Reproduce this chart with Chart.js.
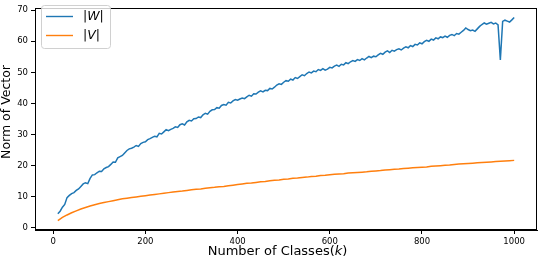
<!DOCTYPE html>
<html>
<head>
<meta charset="utf-8">
<script src="https://cdn.jsdelivr.net/npm/chart.js@4/dist/chart.umd.min.js"></script>
<style>
html,body{margin:0;padding:0;background:#fff;}
canvas{display:block;}
</style>
</head>
<body>
<canvas id="c" width="538" height="260"></canvas>
<script>
// ---- data ----
const wStartK = 10, wStepK = 5;
const normW = [
 4.4, 5.2, 6.5, 7.4, 9.6, 10.3, 10.9, 11.2, 11.9, 12.4,
 13.2, 14.0, 14.4, 14.1, 15.8, 16.9, 17.0, 17.6, 18.1, 18.0,
 18.9, 19.3, 19.6, 20.3, 21.1, 21.0, 22.4, 22.8, 23.2, 24.0,
 24.8, 25.3, 25.5, 25.9, 26.4, 26.1, 27.0, 27.4, 27.6, 28.3,
 28.6, 29.0, 29.4, 29.2, 30.3, 30.1, 30.8, 31.5, 31.2, 31.6,
 31.9, 32.4, 32.2, 33.1, 33.4, 33.0, 34.0, 34.5, 34.3, 35.0,
 35.1, 35.6, 35.4, 36.3, 36.8, 36.5, 37.4, 37.9, 38.0, 38.6,
 38.4, 39.3, 39.6, 39.4, 40.3, 40.1, 40.8, 41.2, 41.0, 41.4,
 41.7, 41.5, 42.1, 42.6, 42.3, 43.1, 43.0, 43.6, 44.0, 43.7,
 44.2, 44.1, 44.8, 44.6, 45.2, 45.9, 46.3, 46.1, 46.8, 47.3,
 47.1, 47.8, 47.5, 48.3, 48.0, 48.6, 49.2, 48.9, 49.6, 50.1,
 49.8, 50.4, 50.2, 50.9, 50.6, 51.2, 50.7, 51.0, 51.6, 51.4,
 52.0, 52.3, 51.9, 52.6, 52.4, 53.1, 52.8, 53.4, 53.8, 53.5,
 54.1, 53.8, 54.4, 54.0, 54.6, 55.1, 54.7, 55.2, 55.0, 55.6,
 56.1, 55.8, 56.5, 56.9, 56.4, 57.1, 56.8, 57.3, 57.6, 57.2,
 57.8, 58.2, 57.9, 58.6, 58.3, 59.0, 58.8, 59.5, 59.2, 59.9,
 60.3, 60.0, 60.7, 60.4, 61.1, 60.8, 61.4, 61.2, 61.7, 61.3,
 61.9, 62.2, 61.8, 62.5, 62.3, 62.9, 63.5, 64.3, 63.8, 63.4,
 63.6, 63.2, 64.0, 64.8, 65.4, 65.9, 65.5, 65.8, 66.1, 65.6,
 65.9, 65.3, 54.0, 66.4, 66.8, 66.5, 66.2, 66.9, 67.7
];
const vStartK = 10, vStepK = 10;
const normV = [
 2.2, 3.2, 4.0, 4.7, 5.3, 5.9, 6.4, 6.9, 7.3, 7.7,
 8.0, 8.3, 8.6, 8.9, 9.2, 9.4, 9.6, 9.8, 10.0, 10.2,
 10.4, 10.6, 10.8, 11.0, 11.2, 11.4, 11.6, 11.7, 11.9, 12.1,
 12.3, 12.4, 12.6, 12.8, 12.9, 13.1, 13.2, 13.4, 13.6, 13.8,
 14.0, 14.2, 14.3, 14.5, 14.7, 14.8, 15.0, 15.2, 15.3, 15.5,
 15.6, 15.8, 15.9, 16.1, 16.2, 16.4, 16.5, 16.7, 16.8, 17.0,
 17.1, 17.2, 17.3, 17.5, 17.6, 17.7, 17.8, 17.9, 18.1, 18.2,
 18.3, 18.5, 18.6, 18.7, 18.8, 19.0, 19.1, 19.2, 19.3, 19.4,
 19.5, 19.7, 19.8, 19.9, 20.0, 20.1, 20.3, 20.4, 20.5, 20.6,
 20.7, 20.8, 20.9, 21.0, 21.1, 21.2, 21.3, 21.4, 21.5, 21.6
];
const xTicks = [0, 200, 400, 600, 800, 1000];
const yTicks = [0, 10, 20, 30, 40, 50, 60, 70];
const seriesLabels = ['W', 'V'];
const xTitle = [{t:'Number of Classes(', i:false}, {t:'k', i:true}, {t:')', i:false}];
const yTitle = 'Norm of Vector';

const BLUE = '#1f77b4', ORANGE = '#ff7f0e';
const FONT = '"DejaVu Sans", sans-serif';

const wPts = normW.map((v, i) => ({x: wStartK + wStepK * i, y: v}));
const vPts = normV.map((v, i) => ({x: vStartK + vStepK * i, y: v}));

function measureRuns(ctx, runs, size) {
  let total = 0;
  runs.forEach(r => {
    ctx.font = (r.i ? 'italic ' : '') + size + 'px ' + FONT;
    total += ctx.measureText(r.t).width;
  });
  return total;
}
function paintRuns(ctx, runs, size, x, y) {
  let cx = x;
  runs.forEach(r => {
    ctx.font = (r.i ? 'italic ' : '') + size + 'px ' + FONT;
    ctx.fillText(r.t, cx, y);
    cx += ctx.measureText(r.t).width;
  });
}

const decor = {
  id: 'decor',
  afterDraw(chart) {
    const ctx = chart.ctx, a = chart.chartArea;
    ctx.save();
    // spines
    ctx.strokeStyle = '#000';
    ctx.lineWidth = 1;
    ctx.strokeRect(Math.round(a.left) + 0.5, Math.round(a.top) + 0.5,
                   Math.round(a.right - a.left) - 1, Math.round(a.bottom - a.top) - 1);
    // x title
    ctx.fillStyle = '#000';
    ctx.textBaseline = 'middle';
    const tw = measureRuns(ctx, xTitle, 13);
    paintRuns(ctx, xTitle, 13, 277.5 - tw / 2, 252);
    // y title
    ctx.save();
    ctx.translate(6.5, 112);
    ctx.rotate(-Math.PI / 2);
    ctx.font = '12.5px ' + FONT;
    ctx.textAlign = 'center';
    ctx.textBaseline = 'middle';
    ctx.fillText(yTitle, 0, 0);
    ctx.restore();
    // legend
    const lx = 41.5, ly = 5.5, lw = 69, lh = 43, r = 3;
    ctx.beginPath();
    ctx.moveTo(lx + r, ly);
    ctx.arcTo(lx + lw, ly, lx + lw, ly + lh, r);
    ctx.arcTo(lx + lw, ly + lh, lx, ly + lh, r);
    ctx.arcTo(lx, ly + lh, lx, ly, r);
    ctx.arcTo(lx, ly, lx + lw, ly, r);
    ctx.closePath();
    ctx.fillStyle = 'rgba(255,255,255,0.8)';
    ctx.fill();
    ctx.strokeStyle = '#d0d0d0';
    ctx.lineWidth = 1;
    ctx.stroke();
    const cols = [BLUE, ORANGE];
    const rows = [16.5, 35.5];
    seriesLabels.forEach((lab, i) => {
      ctx.strokeStyle = cols[i];
      ctx.lineWidth = 1.4;
      ctx.beginPath();
      ctx.moveTo(46, rows[i]);
      ctx.lineTo(73, rows[i]);
      ctx.stroke();
      ctx.fillStyle = '#000';
      ctx.textBaseline = 'middle';
      paintRuns(ctx, [{t:'|', i:false}, {t:lab, i:true}, {t:'|', i:false}], 12.5, 83, rows[i]);
    });
    ctx.restore();
  }
};

new Chart(document.getElementById('c'), {
  type: 'line',
  data: {
    datasets: [
      {label: '|W|', data: wPts, borderColor: BLUE, borderWidth: 1.5, pointRadius: 0, tension: 0, fill: false},
      {label: '|V|', data: vPts, borderColor: ORANGE, borderWidth: 1.5, pointRadius: 0, tension: 0, fill: false}
    ]
  },
  options: {
    responsive: false,
    animation: false,
    devicePixelRatio: 1,
    layout: {padding: {top: 2, right: 1, left: 0, bottom: 0}},
    plugins: {legend: {display: false}, tooltip: {enabled: false}},
    scales: {
      x: {
        type: 'linear', min: -39.5, max: 1049.5,
        afterBuildTicks: s => { s.ticks = xTicks.map(v => ({value: v})); },
        afterFit: s => { s.height = 30; },
        grid: {drawOnChartArea: false, drawTicks: true, tickLength: 4, tickColor: '#000', tickWidth: 1},
        border: {display: true, color: '#000', width: 1},
        ticks: {color: '#000', font: {family: FONT, size: 8.5}, padding: 3, maxRotation: 0, autoSkip: false,
                callback: v => String(v)}
      },
      y: {
        type: 'linear', min: -0.85, max: 70.7,
        afterBuildTicks: s => { s.ticks = yTicks.map(v => ({value: v})); },
        afterFit: s => { s.width = 35; },
        grid: {drawOnChartArea: false, drawTicks: true, tickLength: 4, tickColor: '#000', tickWidth: 1},
        border: {display: true, color: '#000', width: 1},
        ticks: {color: '#000', font: {family: FONT, size: 8.5}, padding: 3, autoSkip: false,
                callback: v => String(v)}
      }
    }
  },
  plugins: [decor]
});
</script>
</body>
</html>
